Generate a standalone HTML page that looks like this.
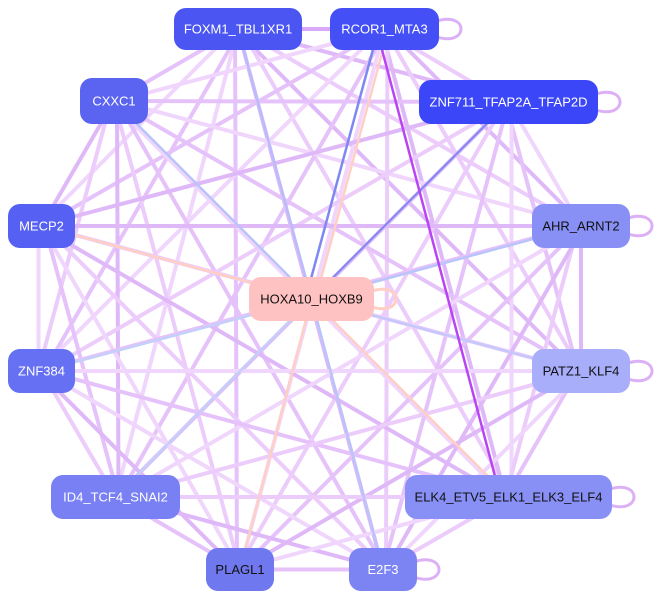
<!DOCTYPE html>
<html><head><style>
html,body{margin:0;padding:0;background:#fff;width:662px;height:599px;overflow:hidden}
svg{position:absolute;left:0;top:0}
</style></head><body>
<svg id="s" width="662" height="599" viewBox="0 0 662 599" xmlns="http://www.w3.org/2000/svg">
<g id="edges"></g><g id="nodes"></g>
</svg>
<script>
var N={
FOX:[174,8,128,42,"#4a55f2","FOXM1_TBL1XR1","#fff"],
RC:[330,8,109,42,"#4450f6","RCOR1_MTA3","#fff"],
CX:[80,78,68,46,"#5a64f0","CXXC1","#fff"],
ZN:[419,80,179,44,"#3a46f8","ZNF711_TFAP2A_TFAP2D","#fff"],
ME:[8,204,67,44,"#5660f2","MECP2","#fff"],
AH:[532,204,98,44,"#8890f6","AHR_ARNT2","#111"],
HO:[249,277,125,44,"#ffc2c2","HOXA10_HOXB9","#111"],
Z3:[8,349,67,44,"#6670f2","ZNF384","#fff"],
PA:[532,349,98,44,"#a8aefa","PATZ1_KLF4","#111"],
ID:[51,475,129,44,"#7880f4","ID4_TCF4_SNAI2","#fff"],
EL:[405,475,207,44,"#8890f6","ELK4_ETV5_ELK1_ELK3_ELF4","#111"],
PL:[206,548,68,43,"#7078f0","PLAGL1","#111"],
E2:[349,548,68,43,"#7c84f4","E2F3","#fff"]};
function c(k){var n=N[k];return [n[0]+n[2]/2,n[1]+n[3]/2];}
var E=document.getElementById("edges"),G=document.getElementById("nodes"),ns="http://www.w3.org/2000/svg";
function line(a,b,col,w,dx){var p=c(a),q=c(b);dx=dx||0;var l=document.createElementNS(ns,"line");
l.setAttribute("x1",p[0]+dx);l.setAttribute("y1",p[1]);l.setAttribute("x2",q[0]+dx);l.setAttribute("y2",q[1]);
l.setAttribute("stroke",col);l.setAttribute("stroke-width",w);E.appendChild(l);}
var outer=["FOX","RC","CX","ZN","ME","AH","Z3","PA","ID","EL","PL","E2"];
var cols=["#ecccfb","#e6c2fa","#dfb8f8","#f0d6fc"];
var i=0;
outer.forEach(function(a,ai){outer.forEach(function(b,bi){if(bi>ai){line(a,b,cols[i%4],4,(i%3)*3-3);i++;}});});
line("FOX","HO","#b8bcfa",2.5);line("RC","HO","#7d88f0",2.5,-6);line("RC","HO","#ffcfc4",2.5,4);
line("ZN","HO","#7d88f0",2);line("CX","HO","#b8c4fa",2.5);line("AH","HO","#b8c4fa",2.5);
line("PA","HO","#c4c8fa",2.5);line("Z3","HO","#c4cffa",2.5);line("ID","HO","#c4d0fa",2.5);
line("PL","HO","#ffcfc4",2.5);line("E2","HO","#b8c4fa",2.5);line("EL","HO","#ffcfc4",2.5);
line("ME","HO","#ffcfc4",2.5);line("RC","EL","#b844f4",2.5,-8);
line("FOX","RC","#d9a8f6",4);
[["RC",1],["ZN",1],["AH",1],["PA",1],["EL",1],["E2",1],["HO",1]].forEach(function(s){var n=N[s[0]];var x=n[0]+n[2],y=n[1]+n[3]/2;
var p=document.createElementNS(ns,"path");p.setAttribute("d","M"+(x-2)+" "+(y-8)+" C"+(x+30)+" "+(y-18)+","+(x+30)+" "+(y+18)+","+(x-2)+" "+(y+8));
p.setAttribute("fill","none");p.setAttribute("stroke",s[0]=="HO"?"#ffcfc4":"#dcb0f6");p.setAttribute("stroke-width",3);E.appendChild(p);});
for(var k in N){var n=N[k];var r=document.createElementNS(ns,"rect");r.setAttribute("x",n[0]);r.setAttribute("y",n[1]);
r.setAttribute("width",n[2]);r.setAttribute("height",n[3]);r.setAttribute("rx",12);r.setAttribute("fill",n[4]);G.appendChild(r);
var t=document.createElementNS(ns,"text");t.setAttribute("x",n[0]+n[2]/2);t.setAttribute("y",n[1]+n[3]/2+4.5);
t.setAttribute("text-anchor","middle");t.setAttribute("font-family","Liberation Sans, sans-serif");t.setAttribute("font-size","13");
t.setAttribute("fill",n[6]);t.textContent=n[5];G.appendChild(t);}
</script>
</body></html>
